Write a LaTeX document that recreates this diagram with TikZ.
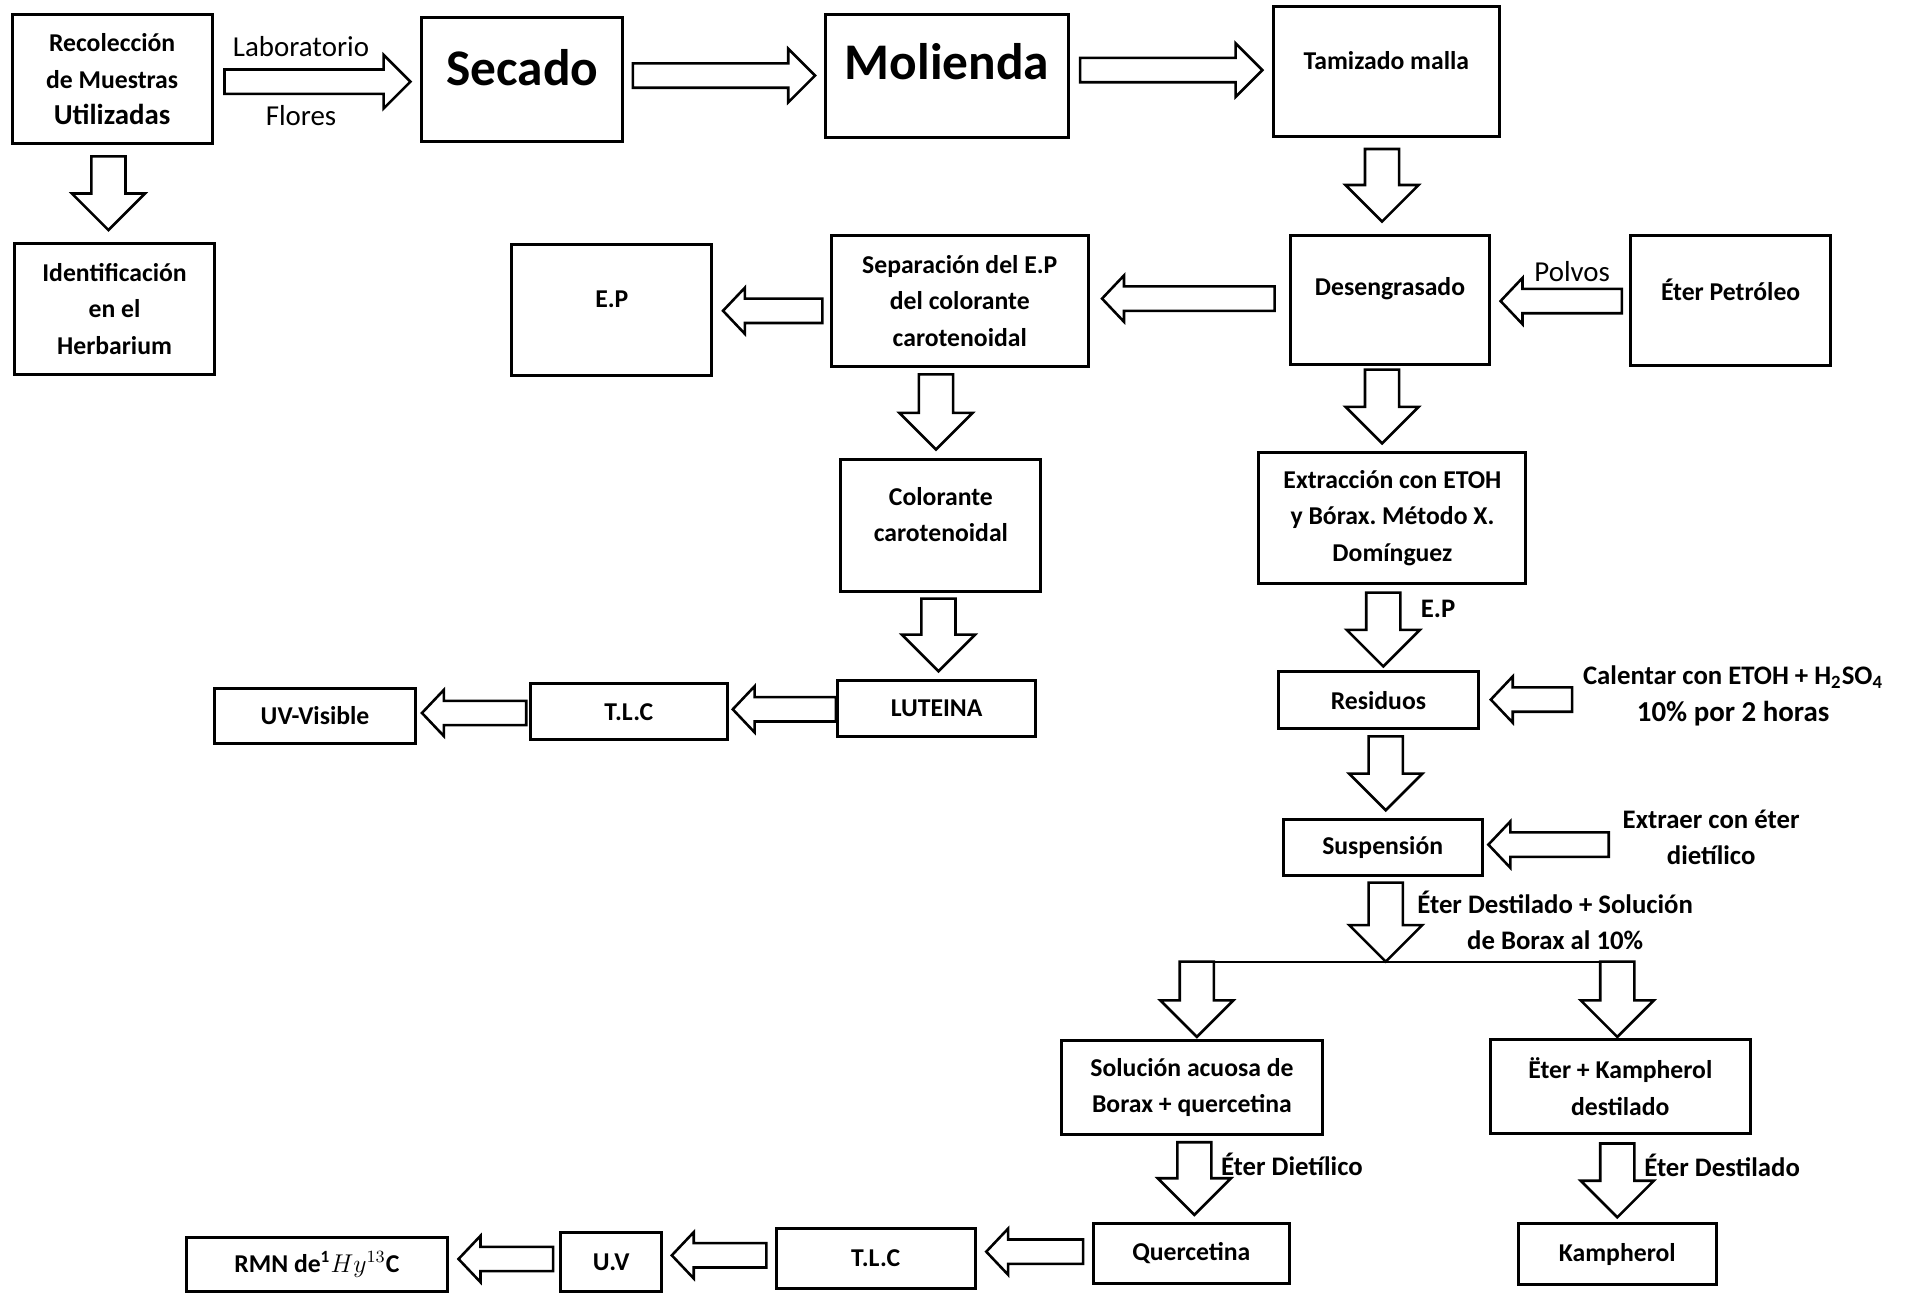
\documentclass[tikz,border=0pt]{standalone}
\usepackage{fontspec}
\setmainfont{Carlito}
\usetikzlibrary{calc}
\frenchspacing

% hollow block arrow: start, tip, shaft half width, head half width, head length
\newcommand\fatarrow[5]{%
  \coordinate (fa-s) at #1;
  \coordinate (fa-e) at #2;
  \coordinate (fa-h) at ($(fa-e)!#5!(fa-s)$);
  \draw[fat] ($(fa-s)!#3!90:(fa-e)$) -- ($(fa-h)!#3!90:(fa-e)$)
    -- ($(fa-h)!#4!90:(fa-e)$) -- (fa-e) -- ($(fa-h)!#4!-90:(fa-e)$)
    -- ($(fa-h)!#3!-90:(fa-e)$) -- ($(fa-s)!#3!-90:(fa-e)$) -- cycle;}
\newcommand\toparrow[2]{\fatarrow{#1}{#2}{0.2cm}{0.44cm}{0.44cm}}
\newcommand\downfat[2]{\fatarrow{#1}{#2}{0.28cm}{0.6cm}{0.6cm}}
\newcommand\sidefat[2]{\fatarrow{#1}{#2}{0.2cm}{0.38cm}{0.36cm}}

\begin{document}
\begin{tikzpicture}[x=0.02cm,y=-0.02cm,
  font=\fontsize{12}{17}\selectfont\bfseries,
  box/.style={draw,line width=1.4pt,align=center,inner sep=2pt},
  sz/.style 2 args={minimum width=#1*0.02cm,minimum height=#2*0.02cm},
  big/.style={font=\fontsize{24}{28}\selectfont\bfseries},
  fat/.style={draw,line width=1.2pt,fill=white,line join=miter},
  plain/.style={font=\fontsize{13.5}{16}\selectfont},
  note/.style={align=center,font=\fontsize{12.5}{17}\selectfont\bfseries},
  forkline/.style={line width=1pt}]
\useasboundingbox (0,0) rectangle (1568,1062);

% top row
\node[box,sz={164}{106}] (rec) at (92,65) {Recolección\\de Muestras\\{\fontsize{13.5}{17}\selectfont Utilizadas}};
\node[box,sz={165}{102},label={[big,yshift=5.5pt]center:Secado}] (sec) at (428.5,65) {};
\node[box,sz={200}{101},label={[big,yshift=7pt]center:Molienda}] (mol) at (777,62.5) {};
\node[box,sz={185}{107},label={[yshift=5pt]center:Tamizado malla}] (tam) at (1137.5,58.5) {};
\node[plain] (lab) at (247,38) {Laboratorio};
\node[plain] (flo) at (247,95) {Flores};

% second row
\node[box,sz={164}{107}] (ide) at (94,253.5) {Identificación\\en el\\Herbarium};
\node[box,sz={164}{107},label={[yshift=5pt]center:E.P}] (ep) at (502,254.5) {};
\node[box,sz={211}{108}] (sep) at (787.5,247) {Separación del E.P\\del colorante\\carotenoidal};
\node[box,sz={163}{106},label={[yshift=5pt]center:Desengrasado}] (des) at (1140.5,246) {};
\node[box,sz={164}{107},label={[yshift=5pt]center:Éter Petróleo}] (eter) at (1420,246.5) {};
\node[plain] (pol) at (1290,223) {Polvos};

% carotenoid branch
\node[box,sz={164}{108},label={[yshift=5pt,align=center]center:Colorante\\carotenoidal}] (col) at (772,431) {};
\node[box,sz={163}{46}] (lut) at (768.5,581) {LUTEINA};
\node[box,sz={162}{46}] (tlc1) at (516,584) {T.L.C};
\node[box,sz={165}{45}] (uv1) at (258.5,587.5) {UV-Visible};

% flavonoid branch
\node[box,sz={219}{108}] (ext) at (1142.5,425) {Extracción con ETOH\\y Bórax. Método X.\\Domínguez};
\node[note] (epl) at (1180,500) {E.P};
\node[box,sz={164}{47}] (res) at (1131,574.5) {Residuos};
\node[note] (cal) at (1422,571) {Calentar con ETOH + H\textsubscript{2}SO\textsubscript{4}\\{\fontsize{13.5}{17}\selectfont 10\% por 2 horas}};
\node[box,sz={163}{46}] (sus) at (1134.5,695) {Suspensión};
\node[note] (extl) at (1404,687) {Extraer con éter\\dietílico};
\node[note] (destl) at (1276,755) {Éter Destilado + Solución\\de Borax al 10\%};
\node[box,sz={214}{77}] (sol) at (978,892.5) {Solución acuosa de\\Borax + quercetina};
\node[box,sz={213}{77}] (ek) at (1329.5,891.5) {Ëter + Kampherol\\destilado};
\node[note] (dietl) at (1060,955) {Éter Dietílico};
\node[note] (edestl) at (1413,956) {Éter Destilado};
\node[box,sz={161}{49}] (que) at (977.5,1028.5) {Quercetina};
\node[box,sz={162}{50}] (kam) at (1327,1029) {Kampherol};
\node[box,sz={163}{49}] (tlc2) at (718.5,1032.5) {T.L.C};
\node[box,sz={83}{49}] (uv2) at (501.5,1035.5) {U.V};
\node[box,sz={214}{45}] (rmn) at (260,1037.5) {RMN de\textsuperscript{1}$Hy^{13}$C};

\coordinate (cal-in) at (1290,574);
\coordinate (ext-in) at (1320,693);
\coordinate (fork) at (1137,789);
\coordinate (fork-a) at (982,789);
\coordinate (fork-b) at (1327,789);

% arrows
\toparrow{($(rec.east)+(9,2)$)}{($(sec.west)+(-8,2)$)}
\toparrow{($(sec.east)+(7,-3)$)}{($(mol.west)+(-7,-0.5)$)}
\toparrow{($(mol.east)+(8,-5)$)}{($(tam.west)+(-8,-1)$)}
\downfat{($(rec.south)+(-3,9)$)}{($(ide.north)+(-5,-10)$)}
\downfat{($(tam.south)+(-3.5,9)$)}{($(des.north)+(-6.5,-10)$)}
\sidefat{($(sep.west)+(-6,8)$)}{($(ep.east)+(8,0.5)$)}
\sidefat{($(des.west)+(-12,-1)$)}{($(sep.east)+(10,-2)$)}
\sidefat{($(eter.west)+(-6,0.5)$)}{($(des.east)+(8,1)$)}
\downfat{($(sep.south)+(-19.5,5)$)}{($(col.north)+(-4,-7)$)}
\downfat{($(des.south)+(-6.5,3)$)}{($(ext.north)+(-8.5,-6)$)}
\downfat{($(col.south)+(-2,5)$)}{($(lut.north)+(1.5,-6)$)}
\sidefat{($(lut.west)+(0,1)$)}{($(tlc1.east)+(3,-2)$)}
\sidefat{($(tlc1.west)+(-2,1)$)}{($(uv1.east)+(4,-2.5)$)}
\downfat{($(ext.south)+(-7.5,6)$)}{($(res.north)+(4,-3)$)}
\sidefat{(cal-in)}{($(res.east)+(9,-0.5)$)}
\downfat{($(res.south)+(6,5)$)}{($(sus.north)+(2.5,-6)$)}
\sidefat{(ext-in)}{($(sus.east)+(4,-2)$)}
\downfat{($(sus.south)+(2.5,5)$)}{(fork)}
\draw[forkline] ($(fork-a)+(-14,0)$) -- ($(fork-b)+(14,0)$);
\downfat{(fork-a)}{($(sol.north)+(4,-2)$)}
\downfat{(fork-b)}{($(ek.north)+(-2.5,-1)$)}
\downfat{($(sol.south)+(2,5)$)}{($(que.north)+(2.5,-6)$)}
\downfat{($(ek.south)+(-2.5,7)$)}{($(kam.north)+(0,-4)$)}
\sidefat{($(que.west)+(-7,-1.5)$)}{($(tlc2.east)+(8,-5.5)$)}
\sidefat{($(tlc2.west)+(-7,-2.5)$)}{($(uv2.east)+(7,-5.5)$)}
\sidefat{($(uv2.west)+(-5,-2.5)$)}{($(rmn.east)+(8,-4.5)$)}
\end{tikzpicture}
\end{document}
